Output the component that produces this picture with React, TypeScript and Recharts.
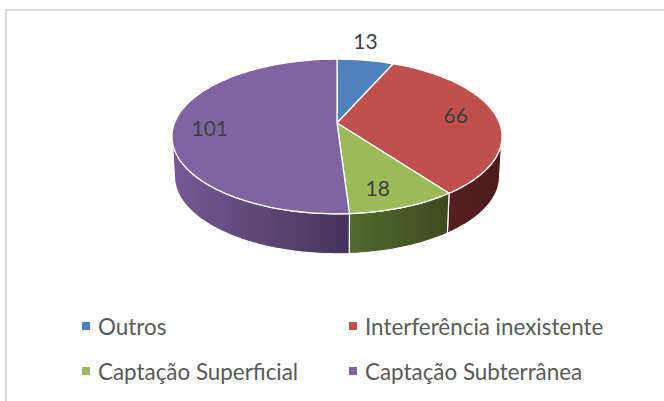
import { PieChart, Pie, Legend } from 'recharts'

const categories = ['Outros', 'Interferência inexistente', 'Captação Superficial', 'Captação Subterrânea']
const values = [13, 66, 18, 101]
const colors = ['#4f81bd', '#c0504d', '#9bbb59', '#8064a2']
// lado iluminado e lado escuro da parede lateral
const wallLight = ['#3d5f8c', '#561f1d', '#54692f', '#735a94']
const wallDark = ['#2c4463', '#4a1c1a', '#3c4a1e', '#45345a']
const labelRadius = [1.3, 0.72, 0.74, 0.78]
const labelShiftX = [-7, 4, -6, 0]
const labelShiftY = [-4, -3, 5, 3]

const chartData = categories.map((name, i) => ({ name, value: values[i], index: i }))

const FONT = 'Lato, sans-serif'
const WIDTH = 664
const HEIGHT = 401
const CX = 337
const CY = 123
const RADIUS = 165
const SQUASH = 0.4545 // altura / largura da elipse
const PERSPECTIVE = 0.174
const DEPTH = 40
const BOTTOM_SCALE = 0.985

// projeta um ponto do disco em perspectiva
function project(cx: number, cy: number, r: number, deg: number, f = 1, scale = 1, dy = 0) {
  const a = (deg * Math.PI) / 180
  const u = Math.cos(a) * f
  const v = -Math.sin(a) * f
  const d = 1 - PERSPECTIVE * v
  return {
    x: cx + (r * 0.985 * scale * u) / d,
    y: cy + dy + (r * SQUASH * v) / d,
  }
}

function arcPoints(cx: number, cy: number, r: number, from: number, to: number, scale = 1, dy = 0) {
  const steps = Math.max(2, Math.ceil(Math.abs(from - to) / 2))
  const pts = []
  for (let i = 0; i <= steps; i++) {
    pts.push(project(cx, cy, r, from + ((to - from) * i) / steps, 1, scale, dy))
  }
  return pts
}

const toPath = (pts: { x: number; y: number }[]) =>
  pts.map((p, i) => `${i === 0 ? 'M' : 'L'}${p.x.toFixed(2)},${p.y.toFixed(2)}`).join(' ')

function TopSlice(props: any) {
  const { cx, cy, outerRadius, startAngle, endAngle, fill } = props
  const pts = arcPoints(cx, cy, outerRadius, startAngle, endAngle)
  return (
    <path
      d={`M${cx},${cy} ${toPath(pts).replace('M', 'L')} Z`}
      fill={fill}
      stroke="#fff"
      strokeWidth={1.3}
      strokeLinejoin="round"
    />
  )
}

function WallSlice(props: any) {
  const { cx, cy, outerRadius, startAngle, endAngle, payload } = props
  const from = Math.min(startAngle, -10)
  const to = Math.max(endAngle, -170)
  if (from <= to) return null
  const top = arcPoints(cx, cy, outerRadius, from, to)
  const bottom = arcPoints(cx, cy, outerRadius, to, from, BOTTOM_SCALE, DEPTH)
  const i = payload?.index ?? props.index
  const id = `wall-${i}`
  const xs = top.map((p) => p.x)
  return (
    <g>
      <defs>
        <linearGradient id={id} gradientUnits="userSpaceOnUse" x1={Math.min(...xs)} x2={Math.max(...xs)} y1={0} y2={0}>
          <stop offset="0%" stopColor={wallLight[i]} />
          <stop offset="100%" stopColor={wallDark[i]} />
        </linearGradient>
      </defs>
      <path
        d={`${toPath(top)} ${toPath(bottom).replace('M', 'L')} Z`}
        fill={`url(#${id})`}
        stroke="#fff"
        strokeWidth={1.2}
      />
    </g>
  )
}

function renderLabel(props: any) {
  const { cx, cy, outerRadius, midAngle, value, index } = props
  const p = project(cx, cy, outerRadius, midAngle, labelRadius[index])
  return (
    <text
      x={p.x + labelShiftX[index]}
      y={p.y + labelShiftY[index]}
      textAnchor="middle"
      dominantBaseline="central"
      fontFamily={FONT}
      fontSize={21}
      fill="#404040"
    >
      {value}
    </text>
  )
}

function renderLegend() {
  return (
    <div style={{ display: 'grid', gridTemplateColumns: '267px 267px', rowGap: 21, fontFamily: FONT, fontSize: 22.4, color: '#595959' }}>
      {categories.map((name, i) => (
        <div key={name} style={{ display: 'flex', alignItems: 'center', height: 24, whiteSpace: 'nowrap' }}>
          <span style={{ width: 8, height: 8, background: colors[i], marginRight: 8 }} />
          {name}
        </div>
      ))}
    </div>
  )
}

export default function App() {
  return (
    <div style={{ position: 'absolute', left: 0, top: 0, width: WIDTH, height: HEIGHT, background: '#fff', overflow: 'hidden' }}>
      <div style={{ position: 'absolute', left: 5, top: 9, width: WIDTH, height: HEIGHT, borderTop: '2px solid #d9d9d9', borderLeft: '2px solid #d9d9d9' }} />
      <PieChart width={WIDTH} height={HEIGHT} margin={{ top: 0, right: 0, bottom: 0, left: 0 }} style={{ position: 'absolute', left: 0, top: 0 }}>
        <Pie
          data={chartData}
          dataKey="value"
          nameKey="name"
          cx={CX}
          cy={CY}
          outerRadius={RADIUS}
          startAngle={90}
          endAngle={-270}
          stroke="none"
          legendType="none"
          shape={WallSlice}
          isAnimationActive={false}
        />
        <Pie
          data={chartData}
          dataKey="value"
          nameKey="name"
          cx={CX}
          cy={CY}
          outerRadius={RADIUS}
          startAngle={90}
          endAngle={-270}
          fill="#8884d8"
          shape={(props: any) => <TopSlice {...props} fill={colors[props.index ?? props.payload?.index]} />}
          label={renderLabel}
          labelLine={false}
          isAnimationActive={false}
        />
        <Legend
          content={renderLegend}
          wrapperStyle={{ position: 'absolute', left: 82, top: 314, width: 540, bottom: 'auto' }}
        />
      </PieChart>
    </div>
  )
}
